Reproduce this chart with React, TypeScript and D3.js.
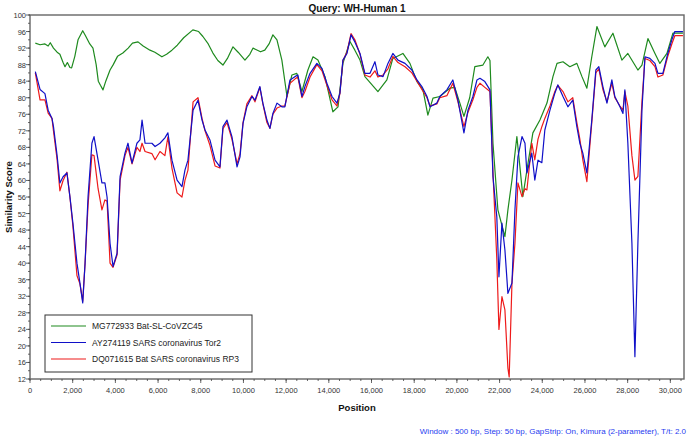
import React from "react";
import * as d3 from "d3";

const title = "Query: WH-Human 1";
const xLabel = "Position";
const yLabel = "Similarity Score";
const footnote = "Window : 500 bp, Step: 50 bp, GapStrip: On, Kimura (2-parameter), T/t: 2.0";
const seriesNames = ["MG772933 Bat-SL-CoVZC45", "AY274119 SARS coronavirus Tor2", "DQ071615 Bat SARS coronavirus RP3"];
const seriesColors = ["#1e8a1e", "#1010c8", "#ee1a1a"];
const xTicks = [0, 2000, 4000, 6000, 8000, 10000, 12000, 14000, 16000, 18000, 20000, 22000, 24000, 26000, 28000, 30000];
const yTicks = [12, 16, 20, 24, 28, 32, 36, 40, 44, 48, 52, 56, 60, 64, 68, 72, 76, 80, 84, 88, 92, 96, 100];

const green: [number, number][] = [[250,93.2],[470,92.8],[700,93],[850,92.5],[950,93.3],[1100,92],[1270,91],[1400,90.5],[1550,88.5],[1640,87.5],[1750,88.5],[1870,87.3],[1950,87.2],[2100,90],[2250,94],[2470,96.2],[2600,95],[2800,93],[2950,92],[3100,88],[3200,84],[3300,83],[3420,81.9],[3550,84],[3750,86.7],[3900,88],[4100,90],[4350,90.8],[4600,92],[4800,93.2],[5060,93.5],[5300,92.5],[5620,91.5],[5850,91],[6180,89.9],[6400,90.5],[6650,91.5],[6900,92.7],[7200,94.5],[7630,96.4],[7900,96],[8100,94.8],[8350,93],[8570,90.8],[8800,89],[9040,87.9],[9250,89.5],[9510,92.3],[9750,91],[10070,89.1],[10300,90.5],[10450,92],[10800,91.1],[11000,91.5],[11200,93],[11380,95.2],[11570,94],[11800,89.1],[12040,80.3],[12270,85.5],[12500,85.9],[12740,81.5],[13020,86.7],[13260,89.9],[13490,89.1],[13820,85.1],[14190,76.6],[14430,77.8],[14660,88.3],[14990,93.6],[15220,91.5],[15460,89.1],[15690,85.1],[16300,81.5],[16720,84.3],[17000,89.5],[17470,90.7],[17800,88.3],[18130,83.9],[18410,81.9],[18640,75.8],[18880,79.9],[19200,80.3],[19670,82.3],[19900,82.5],[20140,78.7],[20330,75.5],[20600,80],[20840,87.5],[21220,87.9],[21450,89.9],[21550,89],[21690,69],[21920,52.9],[22250,46.4],[22390,52.9],[22580,60.1],[22810,70.6],[22950,63.4],[23090,56.1],[23280,62.5],[23560,71.5],[23890,74.6],[24220,78.7],[24500,85.1],[24690,88.3],[24970,88.7],[25290,87.5],[25620,88.3],[25860,85.1],[26090,82.3],[26320,89.9],[26560,97.2],[26930,92.3],[27310,95.6],[27730,89.1],[28010,90.7],[28480,86.7],[28670,87.9],[28950,94.3],[29280,90.7],[29510,88.3],[29840,90.7],[30120,95.6],[30590,95.6]];

const blue: [number, number][] = [[250,86.3],[470,82],[700,81],[850,77],[1030,75],[1100,73],[1270,66],[1400,59.4],[1550,60.9],[1730,61.8],[1870,56.1],[2010,49.7],[2200,40],[2340,35.2],[2470,30.4],[2580,40],[2720,56.1],[2900,69],[3000,70.6],[3190,64.9],[3370,59.4],[3510,59.4],[3610,56],[3750,44.8],[3890,39.2],[4080,42.4],[4220,60.9],[4450,66.6],[4590,69],[4780,64.2],[5010,69],[5150,69.8],[5250,74.6],[5390,69],[5710,69],[5860,68.2],[6090,69],[6320,70.3],[6460,71.5],[6650,64.9],[6890,60.1],[7120,58.5],[7260,62.5],[7400,64.9],[7640,77],[7870,79.4],[8060,74.6],[8200,72.2],[8430,69.8],[8670,64.9],[8900,63.3],[9040,73],[9230,74.6],[9460,70.6],[9700,63.3],[9840,65.7],[9980,73.8],[10160,77.8],[10400,80.3],[10540,79.4],[10770,82.7],[10910,78.7],[11100,74.6],[11240,72.6],[11380,76.2],[11570,78.7],[11800,77.8],[11940,77.8],[12180,84.3],[12410,85.1],[12550,85.5],[12740,80.3],[12880,82.7],[13120,85.9],[13440,88.3],[13680,87.1],[13910,83.5],[14150,80.3],[14380,78.7],[14520,81.1],[14660,89.1],[14850,90.7],[15040,95.2],[15220,93.5],[15460,90.7],[15690,85.9],[15930,85.9],[16160,88.7],[16300,85.5],[16540,85.1],[16770,88.3],[17000,90.7],[17240,89.1],[17570,88.3],[17890,86.7],[18130,84.3],[18360,82.7],[18600,80.3],[18740,77.8],[19060,78.7],[19200,80.3],[19530,81.9],[19810,84.3],[20050,79.4],[20330,71.5],[20520,77],[20750,80.3],[20940,84.3],[21080,84.7],[21310,83.9],[21550,81.9],[21690,60.9],[21870,51.2],[21970,36.7],[22110,49.7],[22250,43.2],[22390,32.7],[22580,35.2],[22720,52.9],[22860,65.7],[23050,70.6],[23190,69],[23280,61.8],[23510,66.6],[23650,60.1],[23800,64.9],[23980,64.3],[24120,72.2],[24360,77],[24590,81.1],[24730,83.1],[24970,80.3],[25200,77.8],[25430,79.4],[25620,73],[25760,69],[25900,66.6],[26090,61.8],[26320,74.6],[26510,86.7],[26650,87.5],[26840,82.7],[27030,78.7],[27260,84.3],[27400,80.3],[27640,77.8],[27780,76.2],[27870,81.9],[28010,69],[28200,44.8],[28340,17.4],[28480,44.8],[28670,77],[28810,89.9],[29040,89.5],[29280,88.3],[29420,85.9],[29650,85.9],[29880,90.7],[30070,94],[30210,96],[30590,96]];

const red: [number, number][] = [[250,86],[470,79.5],[700,79.5],[850,76.3],[1030,75],[1100,72],[1270,65],[1400,57.5],[1550,60],[1730,62],[1870,56],[2010,49],[2200,37],[2340,35],[2470,30.8],[2580,40],[2720,54],[2900,66.2],[3000,66],[3190,58],[3370,52.9],[3510,55.3],[3610,55],[3750,40],[3890,39],[4080,42],[4220,60],[4450,66],[4590,68],[4780,64],[5010,68],[5150,67],[5250,69],[5390,67],[5710,66.5],[5860,65],[6090,67],[6320,66],[6460,70.5],[6650,63],[6890,57],[7120,56],[7260,60],[7400,62.5],[7640,79],[7870,80],[8060,75],[8200,72],[8430,68.5],[8670,63.5],[8900,63],[9040,72.5],[9230,74],[9460,70],[9700,64],[9840,66.5],[9980,74],[10160,78.5],[10400,80.5],[10540,79],[10770,82.5],[10910,78.5],[11100,74],[11240,72.6],[11380,76],[11570,77.5],[11800,78],[11940,78],[12180,83.5],[12410,84.5],[12550,85],[12740,80],[12880,81.5],[13120,85],[13440,88],[13680,86.5],[13910,83],[14150,79.5],[14380,78],[14520,81],[14660,89],[14850,91],[15040,95.5],[15220,94],[15460,90.5],[15690,85.5],[15930,85],[16160,86.5],[16300,85],[16540,85.5],[16770,87],[17000,90],[17240,88.5],[17570,87.5],[17890,86],[18130,84],[18360,82],[18600,80],[18740,78],[19060,78.5],[19200,80],[19530,80.5],[19810,83.5],[20050,79],[20330,73],[20520,76.5],[20750,79.5],[20940,82.5],[21080,83.5],[21310,82.5],[21550,81.5],[21690,62],[21870,41],[21970,24],[22110,31.9],[22250,28.7],[22390,14.6],[22450,12.5],[22580,35.2],[22720,44.8],[22860,59.4],[23050,56.1],[23190,58],[23280,57.7],[23510,69],[23650,65],[23800,70],[23980,73],[24120,75],[24360,78],[24590,81.5],[24730,83],[24970,81.5],[25200,79],[25430,80],[25620,74],[25760,70],[25900,65],[26090,59.7],[26320,74],[26510,86],[26650,87],[26840,82],[27030,79],[27260,83.5],[27400,80],[27640,78],[27780,77],[27870,81.5],[28010,78],[28200,66],[28340,60.1],[28480,61],[28670,79],[28810,89.5],[29040,89],[29280,87.5],[29420,85],[29650,85.5],[29880,90],[30070,93],[30210,95],[30590,95]];

const series = [green, blue, red];
const drawOrder = [0, 2, 1];

const W = 689, H = 439;
const L = 30, R = 684, T = 15, B = 379;
const FONT = "'Liberation Sans', Arial, sans-serif";

export default function App() {
  const x = d3.scaleLinear().domain([0, 30640]).range([L, R]);
  const y = d3.scaleLinear().domain([12, 100]).range([B, T]);
  const line = d3.line<[number, number]>().x(d => x(d[0])).y(d => y(d[1]));
  const xMinor = d3.range(0, 30640, 500);
  const yMinor = d3.range(12, 100.1, 2);

  return (
    <svg width={W} height={H} style={{ position: "absolute", left: 0, top: 0, background: "#fff" }} fontFamily={FONT}>
      <text x={357} y={12} textAnchor="middle" fontSize={10} fontWeight="bold" fill="#111">{title}</text>
      {drawOrder.map(i => (
        <path key={i} d={line(series[i]) || ""} fill="none" stroke={seriesColors[i]} strokeWidth={1.2} strokeLinejoin="round" />
      ))}
      <rect x={L} y={T} width={R - L} height={B - T} fill="none" stroke="#666" strokeWidth={1.4} />
      {yMinor.map(v => (
        <line key={"ym" + v} x1={L - 2} x2={L} y1={y(v)} y2={y(v)} stroke="#444" strokeWidth={0.8} />
      ))}
      {yTicks.map(v => (
        <g key={"y" + v}>
          <line x1={L - 4} x2={L} y1={y(v)} y2={y(v)} stroke="#444" strokeWidth={0.8} />
          <text x={L - 4} y={y(v) + 3} textAnchor="end" fontSize={7.5} fill="#333">{v}</text>
        </g>
      ))}
      {xMinor.map(v => (
        <line key={"xm" + v} x1={x(v)} x2={x(v)} y1={B} y2={B + 2} stroke="#444" strokeWidth={0.8} />
      ))}
      {xTicks.map(v => (
        <g key={"x" + v}>
          <line x1={x(v)} x2={x(v)} y1={B} y2={B + 4} stroke="#444" strokeWidth={0.8} />
          <text x={x(v)} y={B + 14} textAnchor="middle" fontSize={7.5} fill="#333">{d3.format(",")(v)}</text>
        </g>
      ))}
      <text x={357} y={411} textAnchor="middle" fontSize={9.5} fontWeight="bold" fill="#111">{xLabel}</text>
      <text transform={`translate(12,197) rotate(-90)`} textAnchor="middle" fontSize={9.5} fontWeight="bold" fill="#111">{yLabel}</text>
      <text x={686} y={434} textAnchor="end" fontSize={8} fill="#1f3cf0">{footnote}</text>
      <rect x={45} y={315} width={207} height={57} fill="#fff" stroke="#333" strokeWidth={1} />
      {seriesNames.map((n, i) => (
        <g key={n}>
          <line x1={51} x2={86} y1={326 + i * 16.5} y2={326 + i * 16.5} stroke={seriesColors[i]} strokeWidth={1.2} />
          <text x={92} y={329 + i * 16.5} fontSize={8.5} fill="#222">{n}</text>
        </g>
      ))}
    </svg>
  );
}
